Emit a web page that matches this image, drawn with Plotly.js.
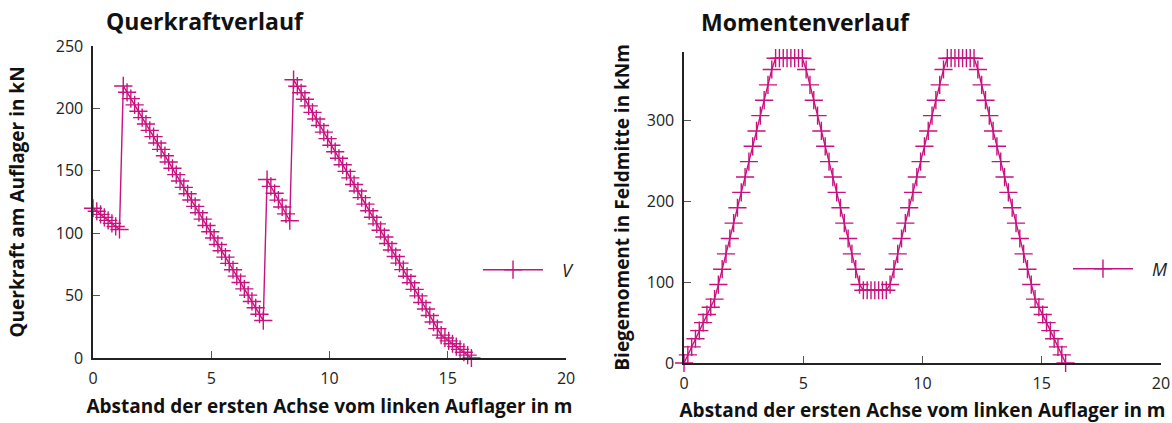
<!DOCTYPE html>
<html>
<head>
<meta charset="utf-8">
<script src="https://cdn.plot.ly/plotly-3.0.1.min.js"></script>
<style>html,body{margin:0;padding:0;background:#fff;} #chart{width:1172px;height:423px;}</style>
</head>
<body>
<div id="chart"></div>
<script>
// Position of the first axle (m)
const positions = [0, 0.16, 0.32, 0.48, 0.64, 0.8, 0.96, 1.12, 1.28, 1.44,
  1.6, 1.76, 1.92, 2.08, 2.24, 2.4, 2.56, 2.72, 2.88, 3.04,
  3.2, 3.36, 3.52, 3.68, 3.84, 4, 4.16, 4.32, 4.48, 4.64,
  4.8, 4.96, 5.12, 5.28, 5.44, 5.6, 5.76, 5.92, 6.08, 6.24,
  6.4, 6.56, 6.72, 6.88, 7.04, 7.2, 7.36, 7.52, 7.68, 7.84,
  8, 8.16, 8.32, 8.48, 8.64, 8.8, 8.96, 9.12, 9.28, 9.44,
  9.6, 9.76, 9.92, 10.08, 10.24, 10.4, 10.56, 10.72, 10.88, 11.04,
  11.2, 11.36, 11.52, 11.68, 11.84, 12, 12.16, 12.32, 12.48, 12.64,
  12.8, 12.96, 13.12, 13.28, 13.44, 13.6, 13.76, 13.92, 14.08, 14.24,
  14.4, 14.56, 14.72, 14.88, 15.04, 15.2, 15.36, 15.52, 15.68, 15.84, 16];

// Shear force at the support (kN)
const shearV = [120, 117.6, 115.1, 112.7, 110.3, 107.9, 105.4, 103, 218, 212.9,
  207.8, 202.8, 197.7, 192.6, 187.5, 182.4, 177.4, 172.3, 167.2, 162.1,
  157, 152, 146.9, 141.8, 136.7, 131.6, 126.6, 121.5, 116.4, 111.3,
  106.2, 101.2, 96.1, 91, 85.9, 80.8, 75.8, 70.7, 65.6, 60.5,
  55.4, 50.4, 45.3, 40.2, 35.1, 30, 143, 137.5, 132, 126.5,
  121, 115.5, 110, 223, 217.8, 212.5, 207.3, 202, 196.8, 191.5,
  186.3, 181, 175.8, 170.5, 165.3, 160, 154.8, 149.5, 144.3, 139,
  133.8, 128.5, 123.3, 118, 112.8, 107.5, 102.3, 97, 91.8, 86.5,
  81.3, 76, 70.8, 65.5, 60.3, 55, 49.8, 44.5, 39.3, 34,
  28.8, 23.5, 18.3, 16, 13.7, 11.4, 9.1, 6.9, 4.6, 2.3, 0];

// Bending moment at midspan (kNm)
const momentM = [0, 10, 20, 30, 40, 50, 60, 69, 79, 97,
  116, 135, 154, 173, 192, 211, 230, 249, 268, 287,
  306, 325, 344, 363, 377, 377, 377, 377, 377, 377,
  377, 377, 363, 344, 325, 306, 287, 268, 249, 230,
  211, 192, 173, 154, 135, 116, 97, 90, 90, 90,
  90, 90, 90, 90, 97, 116, 135, 154, 173, 192,
  211, 230, 249, 268, 287, 306, 325, 344, 363, 377,
  377, 377, 377, 377, 377, 377, 377, 363, 344, 325,
  306, 287, 268, 249, 230, 211, 192, 173, 154, 135,
  116, 97, 79, 69, 60, 50, 40, 30, 20, 10, 0];

const xTicks = [0, 5, 10, 15, 20];
const vTicks = [0, 50, 100, 150, 200, 250];
const mTicks = [0, 100, 200, 300];

const col = '#c8127f';
const FONT = '"Open Sans", "DejaVu Sans", sans-serif';

function trace(y, name, xa, ya, leg) {
  return {
    x: positions, y: y, name: name, xaxis: xa, yaxis: ya, legend: leg,
    type: 'scatter', mode: 'lines+markers',
    line: {color: col, width: 1.4},
    marker: {symbol: 'cross-thin-open', size: 13, color: col, line: {color: col, width: 1.4}},
    cliponaxis: false
  };
}

const axBase = {
  showgrid: false, zeroline: false, showline: true, linecolor: '#222', linewidth: 1.6,
  ticks: 'inside', ticklen: 7, tickwidth: 1.2, tickcolor: '#555', mirror: false,
  ticklabelstandoff: 5,
  tickfont: {family: FONT, size: 16, color: '#222'}, automargin: false
};

const titleFont = {family: FONT, size: 19, color: '#111', weight: 'bold'};

const layout = {
  width: 1172, height: 423,
  margin: {l: 93, r: 11, t: 46, b: 60, autoexpand: false},
  paper_bgcolor: '#fff', plot_bgcolor: '#fff',
  font: {family: FONT},
  showlegend: true,
  title: {text: 'Querkraftverlauf', x: 106/1172, xanchor: 'left', xref: 'container', y: 0.948, yanchor: 'middle',
          font: {family: FONT, size: 23, color: '#111', weight: 'bold'}},
  xaxis: Object.assign({}, axBase, {domain: [0, 0.4429], range: [0, 20], tickvals: xTicks,
    title: {text: 'Abstand der ersten Achse vom linken Auflager in m', font: titleFont, standoff: 12}}),
  yaxis: Object.assign({}, axBase, {domain: [0.0158, 1], range: [0, 250], tickvals: vTicks, anchor: 'x',
    title: {text: 'Querkraft am Auflager in kN', font: titleFont, standoff: 26}}),
  xaxis2: Object.assign({}, axBase, {domain: [0.5534, 1], range: [0, 20], tickvals: xTicks, anchor: 'y2',
    title: {text: 'Abstand der ersten Achse vom linken Auflager in m', font: titleFont, standoff: 12}}),
  yaxis2: Object.assign({}, axBase, {domain: [0, 0.982], range: [0, 385], tickvals: mTicks, anchor: 'x2',
    title: {text: 'Biegemoment in Feldmitte in kNm', font: titleFont, standoff: 12}}),
  legend: {x: 0.3605, y: 0.2934, xanchor: 'left', yanchor: 'middle', bgcolor: 'rgba(0,0,0,0)',
    itemwidth: 60, font: {family: FONT, size: 18, color: '#222'}},
  legend2: {x: 0.9129, y: 0.2965, xanchor: 'left', yanchor: 'middle', bgcolor: 'rgba(0,0,0,0)',
    itemwidth: 60, font: {family: FONT, size: 18, color: '#222'}},
  annotations: [{text: 'Momentenverlauf', xref: 'paper', yref: 'paper', x: (699-93)/1068, y: 1, yshift: 24,
    xanchor: 'left', yanchor: 'middle', showarrow: false,
    font: {family: FONT, size: 23, color: '#111', weight: 'bold'}}]
};

Plotly.newPlot('chart', [
  trace(shearV, '&nbsp;&nbsp;&nbsp;<i>V</i>', 'x', 'y', 'legend'),
  trace(momentM, '&nbsp;&nbsp;&nbsp;<i>M</i>', 'x2', 'y2', 'legend2')
], layout, {displayModeBar: false, staticPlot: true});
</script>
</body>
</html>
